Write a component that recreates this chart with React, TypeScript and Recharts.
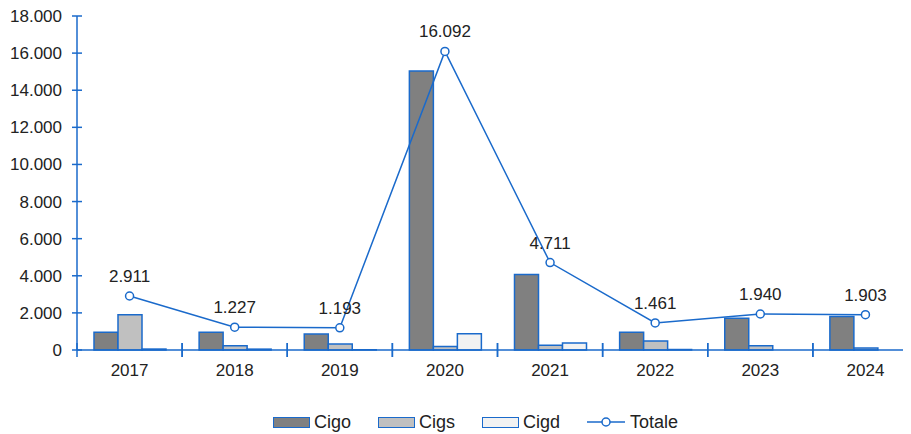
import React from 'react';
import { ComposedChart, Bar, Line, XAxis, YAxis, Legend, LabelList } from 'recharts';

const years = ['2017', '2018', '2019', '2020', '2021', '2022', '2023', '2024'];
const cigo = [960, 950, 860, 15030, 4070, 950, 1710, 1800];
const cigs = [1900, 230, 320, 190, 260, 485, 230, 103];
const cigd = [51, 47, 13, 872, 381, 26, 0, 0];
const totale = [2911, 1227, 1193, 16092, 4711, 1461, 1940, 1903];
const yTicks = [0, 2000, 4000, 6000, 8000, 10000, 12000, 14000, 16000, 18000];

const data = years.map((year, i) => ({
  year,
  Cigo: cigo[i],
  Cigs: cigs[i],
  Cigd: cigd[i],
  Totale: totale[i],
}));

const BLUE = '#1a6acb';
const FONT = '"Liberation Sans", Arial, sans-serif';
const CHART_W = 910;
const Y_AXIS_W = 69;
const BAND = (CHART_W - Y_AXIS_W) / years.length;

// dotted thousands: 16092 -> 16.092
const fmt = (v: number) => String(v).replace(/\B(?=(\d{3})+(?!\d))/g, '.');

const YTick = ({ x, y, payload }: any) => (
  <g>
    <line x1={x - 5} x2={x + 5} y1={y} y2={y} stroke={BLUE} strokeWidth={1.5} />
    <text x={x - 15} y={y} dy={6} textAnchor="end" fontSize={17} fill="#222" fontFamily={FONT}>
      {fmt(payload.value)}
    </text>
  </g>
);

const XTick = ({ x, y, payload }: any) => (
  <g>
    <line x1={x - BAND / 2} x2={x - BAND / 2} y1={y - 7} y2={y + 7} stroke={BLUE} strokeWidth={1.5} />
    <line x1={x + BAND / 2} x2={x + BAND / 2} y1={y - 7} y2={y + 7} stroke={BLUE} strokeWidth={1.5} />
    <text x={x} y={y} dy={26} textAnchor="middle" fontSize={17} fill="#222" fontFamily={FONT}>
      {payload.value}
    </text>
  </g>
);

const legendItems = [
  { name: 'Cigo', fill: '#808080' },
  { name: 'Cigs', fill: '#c0c0c0' },
  { name: 'Cigd', fill: '#f2f2f2' },
];

const LegendContent = () => (
  <div
    style={{
      height: 24,
      display: 'flex',
      alignItems: 'center',
      paddingLeft: 265,
      fontFamily: FONT,
      fontSize: 18,
      color: '#222',
    }}
  >
    {legendItems.map((it) => (
      <div key={it.name} style={{ display: 'flex', alignItems: 'center', marginRight: 27 }}>
        <span
          style={{
            display: 'inline-block',
            boxSizing: 'border-box',
            width: 37,
            height: 11,
            background: it.fill,
            border: `1.5px solid ${BLUE}`,
            marginRight: 4,
          }}
        />
        {it.name}
      </div>
    ))}
    <div style={{ display: 'flex', alignItems: 'center' }}>
      <svg width={38} height={12} style={{ marginRight: 5 }}>
        <line x1={0} x2={38} y1={6} y2={6} stroke={BLUE} strokeWidth={1.5} />
        <circle cx={19} cy={6} r={4} fill="#fff" stroke={BLUE} strokeWidth={1.5} />
      </svg>
      Totale
    </div>
  </div>
);

export default function App() {
  return (
    <div style={{ width: 903, height: 426, overflow: 'hidden' }}>
      <ComposedChart
        width={CHART_W}
        height={426}
        data={data}
        margin={{ top: 8, right: 0, bottom: 0, left: 0 }}
        barGap={0}
        barSize={24}
      >
        <XAxis
          dataKey="year"
          height={60}
          tickSize={0}
          tickMargin={0}
          tick={<XTick />}
          axisLine={{ stroke: BLUE, strokeWidth: 1.5 }}
          interval={0}
        />
        <YAxis
          width={Y_AXIS_W}
          domain={[0, 18000]}
          ticks={yTicks}
          interval={0}
          tickSize={0}
          tickMargin={0}
          tick={<YTick />}
          axisLine={{ stroke: BLUE, strokeWidth: 1.5 }}
        />
        <Bar dataKey="Cigo" fill="#808080" stroke={BLUE} strokeWidth={1.5} isAnimationActive={false} />
        <Bar dataKey="Cigs" fill="#c0c0c0" stroke={BLUE} strokeWidth={1.5} isAnimationActive={false} />
        <Bar dataKey="Cigd" fill="#f2f2f2" stroke={BLUE} strokeWidth={1.5} isAnimationActive={false} />
        <Line
          dataKey="Totale"
          type="linear"
          stroke={BLUE}
          strokeWidth={1.5}
          dot={{ r: 4, fill: '#fff', stroke: BLUE, strokeWidth: 1.5 }}
          isAnimationActive={false}
        >
          <LabelList
            dataKey="Totale"
            position="top"
            offset={14}
            formatter={(v: any) => fmt(Number(v))}
            style={{ fontSize: 17, fill: '#222', fontFamily: FONT }}
          />
        </Line>
        <Legend verticalAlign="bottom" content={<LegendContent />} />
      </ComposedChart>
    </div>
  );
}
